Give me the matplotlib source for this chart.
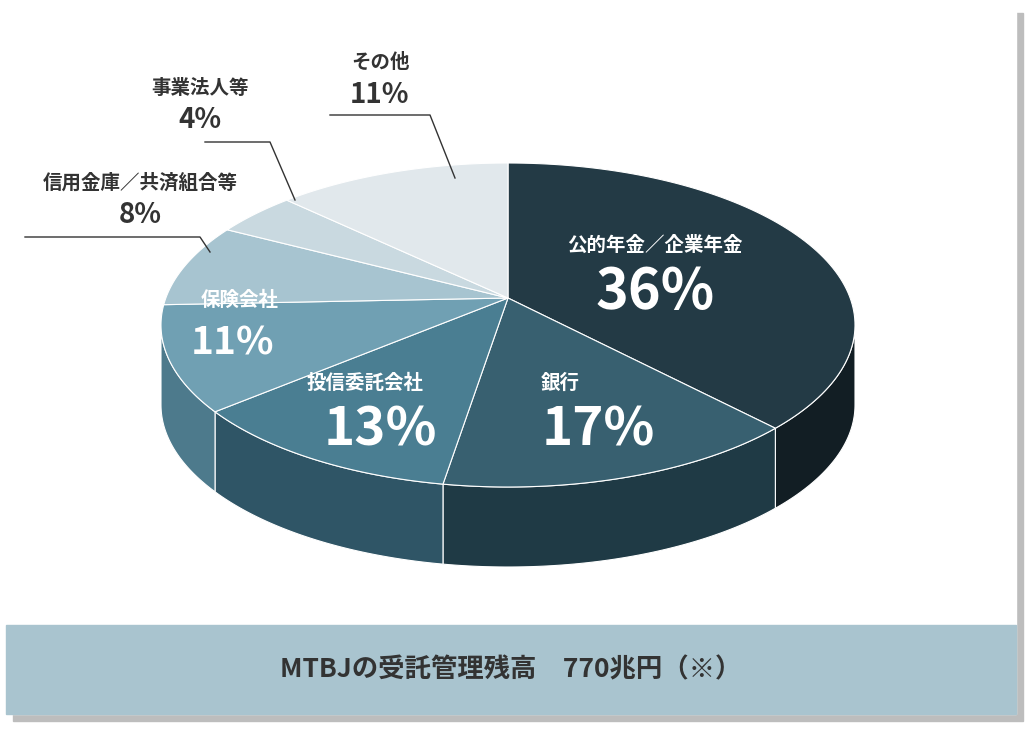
import numpy as np
import matplotlib.pyplot as plt
from matplotlib.patches import Rectangle, Polygon

plt.rcParams['font.family'] = ['Noto Sans CJK JP', 'DejaVu Sans']

labels = ["公的年金／企業年金", "銀行", "投信委託会社", "保険会社",
          "信用金庫／共済組合等", "事業法人等", "その他"]
shares = [36, 17, 13, 11, 8, 4, 11]
top_colors = ["#233a45", "#386070", "#4a7e92", "#70a0b3", "#a7c4d0", "#c9d9e0", "#e1e8ec"]
side_colors = ["#121e24", "#1f3a45", "#2f5566", "#4d7a8c", "#7f9ea9", "#a4b5bc", "#c0c9cc"]

cx, cy, rx, ry, depth = 508, 325, 347, 162, 80
apex = (508, 298)

fig = plt.figure(figsize=(10.3, 7.32), dpi=100)
ax = fig.add_axes([0, 0, 1, 1])
ax.set_xlim(0, 1030)
ax.set_ylim(732, 0)
ax.axis("off")

# card with shadow
ax.add_patch(Rectangle((13, 13), 1010, 708, color="#bdbdbd", zorder=0))
ax.add_patch(Rectangle((6, 6), 1010, 708, color="white", zorder=1))
ax.add_patch(Rectangle((6, 625), 1010, 89, color="#a9c4cf", zorder=2))
ax.text(511, 670, "MTBJの受託管理残高　770兆円（※）", ha="center", va="center",
        fontsize=19, color="#333333", fontweight="bold", zorder=3)


def pt(theta, dy=0):
    return cx + rx * np.cos(theta), cy - ry * np.sin(theta) + dy


bounds = 90 - 3.6 * np.concatenate([[0], np.cumsum(shares)])

# side walls (front half only)
for i in range(len(shares)):
    s, e = max(bounds[i + 1], -180), min(bounds[i], 0)
    if e > s:
        th = np.radians(np.linspace(s, e, 60))
        top = [pt(t) for t in th]
        bot = [pt(t, depth) for t in th[::-1]]
        ax.add_patch(Polygon(top + bot, closed=True, fc=side_colors[i],
                             ec="white", lw=0.8, zorder=4))

# top faces
for i in range(len(shares)):
    th = np.radians(np.linspace(bounds[i + 1], bounds[i], 100))
    pts = [apex] + [pt(t) for t in th]
    ax.add_patch(Polygon(pts, closed=True, fc=top_colors[i], ec="white",
                         lw=0.8, zorder=5))

w = dict(color="white", ha="center", va="center", fontweight="bold", zorder=6)
ax.text(655, 245, labels[0], fontsize=14, **w)
ax.text(655, 292, f"{shares[0]}%", fontsize=40, **w)
ax.text(560, 383, labels[1], fontsize=14, **w)
ax.text(598, 430, f"{shares[1]}%", fontsize=38, **w)
ax.text(365, 383, labels[2], fontsize=14, **w)
ax.text(380, 430, f"{shares[2]}%", fontsize=38, **w)
ax.text(240, 300, labels[3], fontsize=14, **w)
ax.text(232, 343, f"{shares[3]}%", fontsize=28, **w)

d = dict(color="#333333", ha="center", va="center", fontweight="bold", zorder=6)
ax.text(380, 62, labels[6], fontsize=14, **d)
ax.text(380, 95, f"{shares[6]}%", fontsize=20, **d)
ax.text(200, 88, labels[5], fontsize=14, **d)
ax.text(200, 120, f"{shares[5]}%", fontsize=20, **d)
ax.text(140, 183, labels[4], fontsize=14, **d)
ax.text(140, 215, f"{shares[4]}%", fontsize=20, **d)

lk = dict(color="#333333", lw=1, zorder=6)
ax.plot([330, 430, 455], [115, 115, 178], **lk)
ax.plot([205, 270, 295], [142, 142, 200], **lk)
ax.plot([25, 200, 210], [237, 237, 252], **lk)

fig.savefig("out.png", dpi=100)
